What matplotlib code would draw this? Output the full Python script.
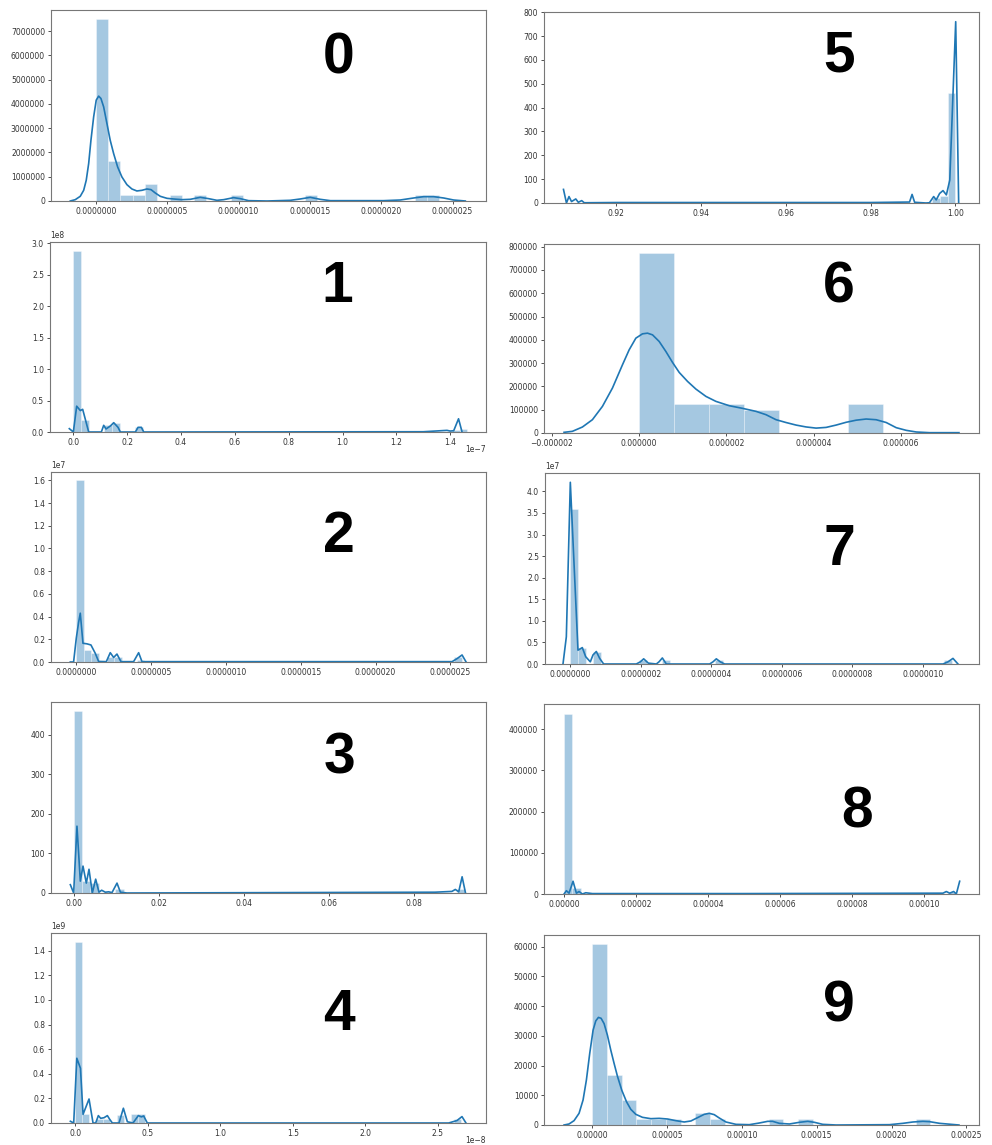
import numpy as np
import matplotlib.pyplot as plt
from matplotlib.ticker import MultipleLocator

plt.rcParams["axes.formatter.limits"] = [-7, 7]
plt.rcParams["font.size"] = 5.5
plt.rcParams["text.color"] = "#333333"

BLUE = "#1f77b4"
W, H = 992, 1145

# --- distribution 0 ---
h0_lo, h0_w = 0.0, 0.086e-6
h0_idx = [0, 1, 2, 3, 4, 6, 8, 11, 17, 26, 27]
h0_val = np.array([7.48, 1.64, 0.25, 0.25, 0.72, 0.25, 0.25, 0.25, 0.25, 0.25, 0.25]) * 1e6
k0_x = np.array([-0.180, -0.145, -0.110, -0.086, -0.068, -0.051, -0.035, -0.016, 0.002, 0.019,
                 0.035, 0.054, 0.077, 0.100, 0.124, 0.152, 0.182, 0.217, 0.252, 0.287,
                 0.322, 0.357, 0.386, 0.416, 0.451, 0.498, 0.544, 0.603, 0.661, 0.731,
                 0.790, 0.848, 0.895, 0.965, 1.012, 1.070, 1.199, 1.362, 1.432, 1.502,
                 1.572, 1.643, 2.016, 2.133, 2.227, 2.297, 2.367, 2.437, 2.507, 2.589]) * 1e-6
k0_y = np.array([0, 0.055, 0.193, 0.440, 0.853, 1.541, 2.503, 3.466, 4.154, 4.319,
                 4.222, 3.878, 3.191, 2.503, 1.953, 1.403, 0.990, 0.674, 0.495, 0.413,
                 0.440, 0.495, 0.468, 0.330, 0.193, 0.110, 0.083, 0.055, 0.069, 0.151,
                 0.096, 0.028, 0.055, 0.138, 0.096, 0.014, 0, 0.028, 0.083, 0.151,
                 0.069, 0.014, 0.014, 0.041, 0.124, 0.179, 0.179, 0.124, 0.041, 0]) * 1e6

# --- distribution 1 ---
h1_lo, h1_w = 0.0, 0.0287e-7
h1_idx = [0, 1, 4, 5, 8, 49, 50]
h1_val = np.array([2.88, 0.19, 0.105, 0.148, 0.085, 0.03, 0.05]) * 1e8
k1_x = np.array([-0.0149, 0, 0.0124, 0.026, 0.0347, 0.057, 0.104, 0.1128, 0.1214, 0.1375,
                 0.15, 0.166, 0.1747, 0.2305, 0.2404, 0.2528, 0.2615,
                 1.30, 1.388, 1.40, 1.413, 1.431, 1.444]) * 1e-7
k1_y = np.array([0.053, 0, 0.41, 0.34, 0.36, 0, 0, 0.106, 0.048, 0.095,
                 0.148, 0.074, 0, 0, 0.074, 0.074, 0,
                 0.004, 0.026, 0.015, 0.02, 0.21, 0]) * 1e8

# --- distribution 2 ---
h2_lo, h2_w = 0.0, 0.0505e-6
h2_idx = [0, 1, 2, 4, 5, 8, 50]
h2_val = np.array([1.6, 0.11, 0.076, 0.04, 0.04, 0.02, 0.04]) * 1e7
k2_x = np.array([-0.040, -0.018, 0, 0.0156, 0.0267, 0.0446, 0.0713, 0.098, 0.127, 0.149,
                 0.2005, 0.227, 0.2496, 0.2718, 0.2986, 0.383, 0.4167, 0.439,
                 2.511, 2.545, 2.578, 2.605]) * 1e-6
k2_y = np.array([0, 0, 0.21, 0.35, 0.43, 0.165, 0.16, 0.15, 0.076, 0.005,
                 0.003, 0.082, 0.04, 0.07, 0.003, 0.003, 0.082, 0.003,
                 0.003, 0.03, 0.062, 0]) * 1e7

# --- distribution 3 ---
h3_lo, h3_w = 0.0, 0.00196
h3_idx = [0, 1, 2, 5, 46]
h3_val = np.array([459, 30, 25, 10, 10])
k3_x = np.array([-0.00078, 0, 0.00078, 0.00157, 0.0022, 0.00298, 0.00361, 0.00439, 0.00518, 0.00596,
                 0.00659, 0.00745, 0.00824, 0.00902, 0.0102, 0.011, 0.01255, 0.05, 0.085, 0.089,
                 0.0898, 0.0906, 0.0914, 0.0922])
k3_y = np.array([21, 0, 169, 30, 68, 25, 60, 0, 35, 2,
                 7, 2, 3, 1, 25, 2, 0, 1, 2, 4,
                 9, 3, 41, 0])

# --- distribution 4 ---
h4_lo, h4_w = 0.0, 0.0483e-8
h4_idx = [0, 1, 3, 4, 6, 8, 9, 54]
h4_val = np.array([1.47, 0.07, 0.035, 0.03, 0.065, 0.07, 0.07, 0.03]) * 1e9
k4_x = np.array([-0.0345, -0.0115, 0.01, 0.035, 0.053, 0.0942, 0.1218, 0.14, 0.1585, 0.1746,
                 0.1976, 0.2206, 0.2367, 0.255, 0.301, 0.331, 0.3585, 0.3975, 0.434, 0.455,
                 0.471, 0.496, 2.5735, 2.631, 2.6654, 2.693]) * 1e-8
k4_y = np.array([0.014, 0, 0.526, 0.445, 0.07, 0.195, 0, 0, 0.06, 0.038,
                 0.043, 0.06, 0.03, 0, 0, 0.12, 0.01, 0, 0.06, 0.05,
                 0.057, 0, 0, 0.02, 0.052, 0]) * 1e9

# --- distribution 5 ---
h5_lo, h5_w = 0.90769, 0.00181
h5_idx = [47, 48, 49, 50]
h5_val = np.array([5, 20, 30, 460])
k5_x = np.array([0.9075, 0.9082, 0.9088, 0.9094, 0.9104, 0.9110, 0.9118, 0.9124, 0.92, 0.95,
                 0.98, 0.9892, 0.9898, 0.9904, 0.9931, 0.9939, 0.9949, 0.9955, 0.9963, 0.9971,
                 0.9979, 0.9987, 1.0001, 1.0008])
k5_y = np.array([57, 0, 27, 6, 17, 3, 10, 1, 2, 2,
                 2, 4, 36, 3, 0, 1, 27, 13, 40, 52,
                 34, 96, 760, 0])

# --- distribution 6 ---
h6_lo, h6_w = 0.0, 0.7992e-6
h6_idx = [0, 1, 2, 3, 6]
h6_val = np.array([774.3, 125.7, 125.7, 100.0, 125.7]) * 1e3
k6_x = np.array([-1.721, -1.530, -1.300, -1.071, -0.841, -0.612, -0.382, -0.229, -0.076, 0.076,
                 0.191, 0.306, 0.459, 0.612, 0.765, 0.918, 1.109, 1.300, 1.530, 1.759,
                 2.065, 2.371, 2.677, 2.906, 3.136, 3.365, 3.595, 3.824, 4.054, 4.283,
                 4.512, 4.742, 4.971, 5.201, 5.430, 5.660, 5.889, 6.119, 6.348, 6.654,
                 7.327]) * 1e-6
k6_y = np.array([2.9, 7.1, 25.7, 57.1, 114.3, 192.9, 292.9, 357.1, 407.1, 425.7,
                 428.6, 421.4, 392.9, 350.0, 302.9, 260.0, 221.4, 188.6, 157.1, 135.7,
                 117.1, 105.7, 92.9, 78.6, 57.1, 45.0, 34.0, 26.0, 21.0, 24.0,
                 34.0, 46.0, 55.0, 60.0, 57.0, 45.0, 22.9, 11.4, 4.3, 1.4,
                 1.4]) * 1e3

# --- distribution 7 ---
h7_lo, h7_w = 0.0, 0.02164e-6
h7_idx = [0, 1, 3, 9, 12, 19, 49]
h7_val = np.array([3.6, 0.36, 0.27, 0.09, 0.09, 0.09, 0.09]) * 1e7
k7_x = np.array([-0.0208, -0.0113, 0, 0.0217, 0.034, 0.0435, 0.0567, 0.0643, 0.0737, 0.0832,
                 0.0945, 0.187, 0.1985, 0.208, 0.2212, 0.2439, 0.2514, 0.2609, 0.2722, 0.395,
                 0.4045, 0.414, 0.4253, 0.4376, 1.0567, 1.0709, 1.085, 1.0992]) * 1e-6
k7_y = np.array([0, 0.63, 4.21, 0.32, 0.38, 0.17, 0.05, 0.21, 0.29, 0.13,
                 0, 0, 0.05, 0.12, 0.02, 0, 0.05, 0.14, 0, 0,
                 0.05, 0.12, 0.05, 0, 0, 0.05, 0.13, 0]) * 1e7

# --- distribution 8 ---
h8_lo, h8_w = 0.0, 0.232e-5
h8_idx = [0, 1, 46]
h8_val = np.array([437, 15, 5]) * 1e3
k8_x = np.array([0, 0.065, 0.139, 0.25, 0.343, 0.417, 0.51, 0.603, 0.789, 5.0,
                 10.529, 10.622, 10.714, 10.826, 10.9, 10.993]) * 1e-5
k8_y = np.array([0, 8, 2, 31, 2, 6, 0, 3, 1, 1,
                 2, 6, 2, 6, 0, 31]) * 1e3

# --- distribution 9 ---
h9_lo, h9_w = 0.0, 0.982e-5
h9_idx = [0, 1, 2, 3, 4, 5, 7, 8, 12, 14, 22]
h9_val = np.array([60.9, 16.8, 8.4, 2.0, 2.0, 2.0, 4.15, 2.0, 2.0, 2.0, 2.0]) * 1e3
k9_x = np.array([-1.897, -1.5625, -1.228, -0.893, -0.625, -0.402, -0.179, 0.045, 0.223, 0.402,
                 0.580, 0.781, 1.004, 1.228, 1.451, 1.674, 1.964, 2.277, 2.567, 2.902,
                 3.348, 3.906, 4.464, 5.022, 5.580, 6.138, 6.585, 7.031, 7.478, 7.813,
                 8.147, 8.482, 8.929, 9.598, 10.491, 11.161, 11.719, 12.054, 12.5, 13.17,
                 13.839, 14.397, 14.844, 15.402, 16.295, 19.866, 20.759, 21.429, 22.098, 22.545,
                 23.214, 24.509]) * 1e-5
k9_y = np.array([0, 0.34, 1.46, 3.93, 8.41, 15.14, 24.1, 31.9, 35.0, 36.2,
                 35.9, 34.1, 30.2, 25.2, 20.7, 16.4, 11.7, 7.85, 5.27, 3.59,
                 2.58, 2.13, 2.24, 2.02, 1.46, 1.01, 1.35, 2.47, 3.59, 3.93,
                 3.48, 2.36, 1.01, 0.22, 0.11, 0.67, 1.23, 1.23, 0.56, 0.34,
                 0.90, 1.23, 0.90, 0.22, 0, 0.11, 0.56, 1.01, 1.23, 1.12,
                 0.56, 0]) * 1e3

# panel boxes in pixels: left, top, right, bottom
panels = [
    ("0", (51, 10, 486, 201), (h0_lo, h0_w, h0_idx, h0_val), (k0_x, k0_y),
     (-0.315e-6, 2.734e-6), 7.866e6, 0.5e-6, 1e6, (339, 74)),
    ("1", (50, 242, 486, 432), (h1_lo, h1_w, h1_idx, h1_val), (k1_x, k1_y),
     (-0.0867e-7, 1.533e-7), 3.016e8, 0.2e-7, 0.5e8, (337, 302)),
    ("2", (51, 472, 486, 662), (h2_lo, h2_w, h2_idx, h2_val), (k2_x, k2_y),
     (-0.169e-6, 2.738e-6), 1.674e7, 0.5e-6, 0.2e7, (339, 552)),
    ("3", (51, 702, 486, 893), (h3_lo, h3_w, h3_idx, h3_val), (k3_x, k3_y),
     (-0.00533, 0.09702), 482.9, 0.02, 100, (339, 773)),
    ("4", (51, 933, 486, 1123), (h4_lo, h4_w, h4_idx, h4_val), (k4_x, k4_y),
     (-0.168e-8, 2.831e-8), 1.5437e9, 0.5e-8, 0.2e9, (339, 1030)),
    ("5", (544, 12, 979, 203), (h5_lo, h5_w, h5_idx, h5_val), (k5_x, k5_y),
     (0.9029, 1.0056), 800.6, 0.02, 100, (839, 72)),
    ("6", (544, 244, 979, 433), (h6_lo, h6_w, h6_idx, h6_val), (k6_x, k6_y),
     (-2.18e-6, 7.786e-6), 811.4e3, 2e-6, 1e5, (839, 303)),
    ("7", (545, 473, 979, 664), (h7_lo, h7_w, h7_idx, h7_val), (k7_x, k7_y),
     (-0.0718e-6, 1.1588e-6), 4.425e7, 0.2e-6, 0.5e7, (839, 565)),
    ("8", (544, 704, 979, 894), (h8_lo, h8_w, h8_idx, h8_val), (k8_x, k8_y),
     (-0.557e-5, 11.53e-5), 461.4e3, 2e-5, 1e5, (857, 827)),
    ("9", (544, 935, 979, 1125), (h9_lo, h9_w, h9_idx, h9_val), (k9_x, k9_y),
     (-3.237e-5, 25.85e-5), 63.92e3, 5e-5, 1e4, (839, 1022)),
]

fig = plt.figure(figsize=(W / 100, H / 100), dpi=100)
fig.patch.set_facecolor("white")

for label, (l, t, r, b), (lo, w, idx, val), (kx, ky), xlim, ytop, xstep, ystep, (tx, ty) in panels:
    ax = fig.add_axes([l / W, 1 - b / H, (r - l) / W, (b - t) / H])
    left_edges = lo + np.asarray(idx) * w
    ax.bar(left_edges, val, width=w, align="edge", color=BLUE, alpha=0.4,
           edgecolor="white", linewidth=0.6)
    ax.plot(kx, ky, color=BLUE, lw=1.2)
    ax.set_xlim(*xlim)
    ax.set_ylim(0, ytop)
    ax.xaxis.set_major_locator(MultipleLocator(xstep))
    ax.yaxis.set_major_locator(MultipleLocator(ystep))
    ax.tick_params(length=2.5, width=0.6, pad=1.8, colors="#333333", labelsize=5.5)
    ax.xaxis.get_offset_text().set_fontsize(5.5)
    ax.yaxis.get_offset_text().set_fontsize(5.5)
    # offset text sits at the right end, clear of the tick labels, so pull it up
    ax.xaxis.OFFSETTEXTPAD = -1.5
    for sp in ax.spines.values():
        sp.set_color("#777777")
        sp.set_linewidth(0.8)
    fig.text(tx / W, 1 - ty / H, label, ha="center", va="baseline",
             fontsize=41, fontweight="bold", family="Liberation Sans", color="black")

fig.savefig("out.png", dpi=100)
